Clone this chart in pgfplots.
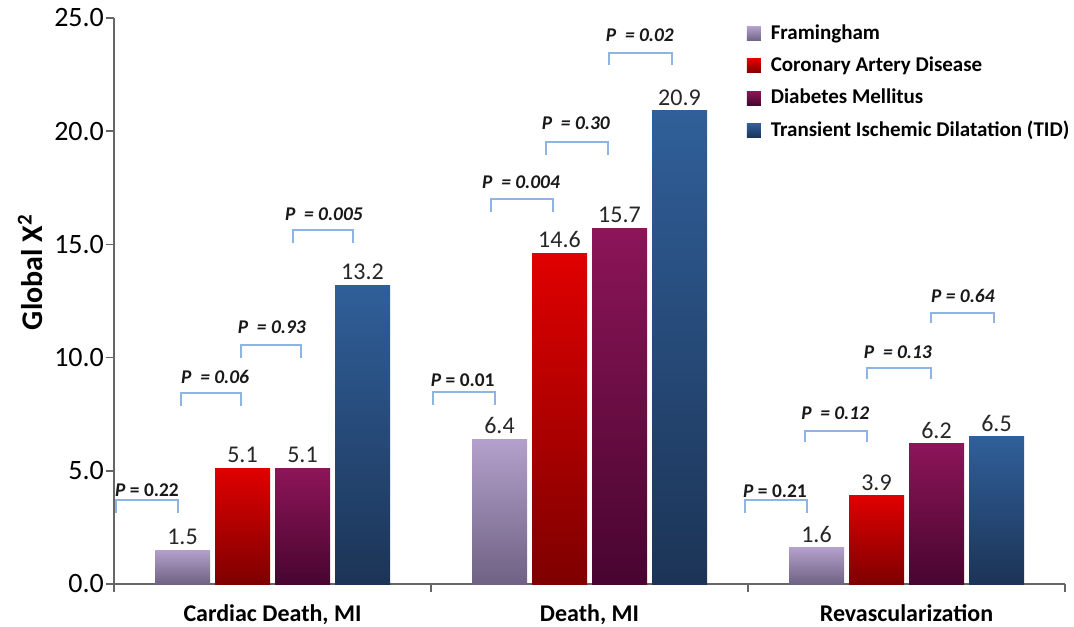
\documentclass[border=0pt]{standalone}
\usepackage{fontspec}
\setmainfont{Carlito}
\usepackage{pgfplots}
\pgfplotsset{compat=1.18}

\definecolor{framT}{HTML}{B3A0CC}
\definecolor{framB}{HTML}{6F6283}
\definecolor{cadT}{HTML}{E00000}
\definecolor{cadB}{HTML}{7E0000}
\definecolor{dmT}{HTML}{8C1558}
\definecolor{dmB}{HTML}{480530}
\definecolor{tidT}{HTML}{305F99}
\definecolor{tidB}{HTML}{1C3456}
\definecolor{brk}{HTML}{8DB4E2}

\pgfplotsset{
  mybar/.style={ybar, bar width=27.5pt, draw=none,
    legend image code/.code={\path[##1] (0pt,-3.5pt) rectangle (7pt,3.5pt); \path (10pt,0pt);}},
  fram/.style={mybar, bar shift=-45pt, top color=framT, bottom color=framB},
  cad/.style={mybar, bar shift=-15pt, top color=cadT, bottom color=cadB},
  dm/.style={mybar, bar shift=15pt, top color=dmT, bottom color=dmB},
  tid/.style={mybar, bar shift=45pt, top color=tidT, bottom color=tidB},
  vals/.style={draw=none, mark=none, forget plot,
    /pgf/number format/fixed, /pgf/number format/fixed zerofill,
    /pgf/number format/precision=1, /pgf/number format/assume math mode=true,
    nodes near coords,
    every node near coord/.append style={font=\fontsize{12}{14}\selectfont, text=black!85,
      anchor=south, inner sep=2.5pt}},
  brack/.style={brk, line width=0.9pt, forget plot},
}
\tikzset{plab/.style={font=\bfseries\fontsize{9.7}{11}\selectfont, text=black!90, anchor=center}}

\begin{document}
\begin{tikzpicture}
\useasboundingbox (0,0) rectangle (537pt,313pt);
\begin{axis}[
  at={(57pt,21pt)}, anchor=south west,
  width=475.5pt, height=283pt, scale only axis,
  xmin=-0.5, xmax=2.5, ymin=0, ymax=25,
  axis x line*=bottom, axis y line*=left,
  axis line style={-, black!60, line width=0.8pt},
  tick style={black!60, line width=0.8pt},
  tick align=outside, major tick length=4pt,
  ytick={0,5,...,25},
  yticklabel style={font=\fontsize{14}{16}\selectfont, text=black, xshift=2.5pt,
    /pgf/number format/fixed, /pgf/number format/fixed zerofill,
    /pgf/number format/precision=1, /pgf/number format/assume math mode=true},
  xtick={-0.5,0.5,1.5,2.5},
  x tick label as interval,
  xticklabels={{Cardiac Death, MI},{Death, MI},{Revascularization}},
  xticklabel style={font=\bfseries\fontsize{12}{14}\selectfont, text=black, yshift=-3pt},
  ylabel={Global Χ\textsuperscript{2}},
  ylabel style={at={(axis description cs:-0.0883,0.551)}, anchor=center, font=\bfseries\fontsize{15}{17}\selectfont},
  legend style={at={(rel axis cs:0.665,0.9955)}, anchor=north west, draw=none, fill=none,
    font=\bfseries\fontsize{10.5}{12}\selectfont, row sep=3.2pt, legend cell align=left,
    inner sep=0pt},
  clip=false,
]
% bars: one plot per bar so that each bar carries its own full gradient
\addplot[fram] coordinates {(0,1.5)};
\addplot[cad] coordinates {(0,5.1)};
\addplot[dm] coordinates {(0,5.1)};
\addplot[tid] coordinates {(0,13.2)};
\legend{Framingham, Coronary Artery Disease, Diabetes Mellitus, Transient Ischemic Dilatation (TID)}
\addplot[fram, forget plot] coordinates {(1,6.4)};
\addplot[fram, forget plot] coordinates {(2,1.6)};
\addplot[cad, forget plot] coordinates {(1,14.6)};
\addplot[cad, forget plot] coordinates {(2,3.9)};
\addplot[dm, forget plot] coordinates {(1,15.7)};
\addplot[dm, forget plot] coordinates {(2,6.2)};
\addplot[tid, forget plot] coordinates {(1,20.9)};
\addplot[tid, forget plot] coordinates {(2,6.5)};
% value labels (bar centres: group centre -/+ 0.2839 and 0.0946)
\addplot[vals] coordinates {(-0.2839,1.5) (0.7161,6.4) (1.7161,1.6)};
\addplot[vals] coordinates {(-0.0946,5.1) (0.9054,14.6) (1.9054,3.9)};
\addplot[vals] coordinates {(0.0946,5.1) (1.0946,15.7) (2.0946,6.2)};
\addplot[vals] coordinates {(0.2839,13.2) (1.2839,20.9) (2.2839,6.5)};
% brackets
\addplot[brack] coordinates {(-0.494,3.14) (-0.494,3.71) (-0.298,3.71) (-0.298,3.14)};
\addplot[brack] coordinates {(-0.289,7.86) (-0.289,8.44) (-0.099,8.44) (-0.099,7.86)};
\addplot[brack] coordinates {(-0.099,9.98) (-0.099,10.56) (0.090,10.56) (0.090,9.98)};
\addplot[brack] coordinates {(0.065,15.06) (0.065,15.64) (0.254,15.64) (0.254,15.06)};
\addplot[brack] coordinates {(0.506,7.91) (0.506,8.48) (0.702,8.48) (0.702,7.91)};
\addplot[brack] coordinates {(0.689,16.43) (0.689,17.00) (0.885,17.00) (0.885,16.43)};
\addplot[brack] coordinates {(0.863,18.95) (0.863,19.52) (1.058,19.52) (1.058,18.95)};
\addplot[brack] coordinates {(1.061,22.92) (1.061,23.45) (1.260,23.45) (1.260,22.92)};
\addplot[brack] coordinates {(1.490,3.14) (1.490,3.71) (1.686,3.71) (1.686,3.14)};
\addplot[brack] coordinates {(1.680,6.27) (1.680,6.76) (1.875,6.76) (1.875,6.27)};
\addplot[brack] coordinates {(1.875,9.05) (1.875,9.54) (2.077,9.54) (2.077,9.05)};
\addplot[brack] coordinates {(2.077,11.53) (2.077,11.97) (2.276,11.97) (2.276,11.53)};
% P labels
\node[plab] at (axis cs:-0.396,4.15) {\textit{P} = 0.22};
\node[plab] at (axis cs:-0.181,9.14) {\textit{P\ \ = 0.06}};
\node[plab] at (axis cs:-0.002,11.35) {\textit{P\ \ = 0.93}};
\node[plab] at (axis cs:0.162,16.34) {\textit{P\ \ = 0.005}};
\node[plab] at (axis cs:0.600,9.01) {\textit{P} = 0.01};
\node[plab] at (axis cs:0.784,17.76) {\textit{P\ \ = 0.004}};
\node[plab] at (axis cs:0.957,20.36) {\textit{P\ \ = 0.30}};
\node[plab] at (axis cs:1.159,24.25) {\textit{P\ \ = 0.02}};
\node[plab] at (axis cs:1.585,4.11) {\textit{P} = 0.21};
\node[plab] at (axis cs:1.775,7.55) {\textit{P\ \ = 0.12}};
\node[plab] at (axis cs:1.973,10.25) {\textit{P\ \ = 0.13}};
\node[plab] at (axis cs:2.178,12.72) {\textit{P = 0.64}};
\end{axis}
\end{tikzpicture}
\end{document}
